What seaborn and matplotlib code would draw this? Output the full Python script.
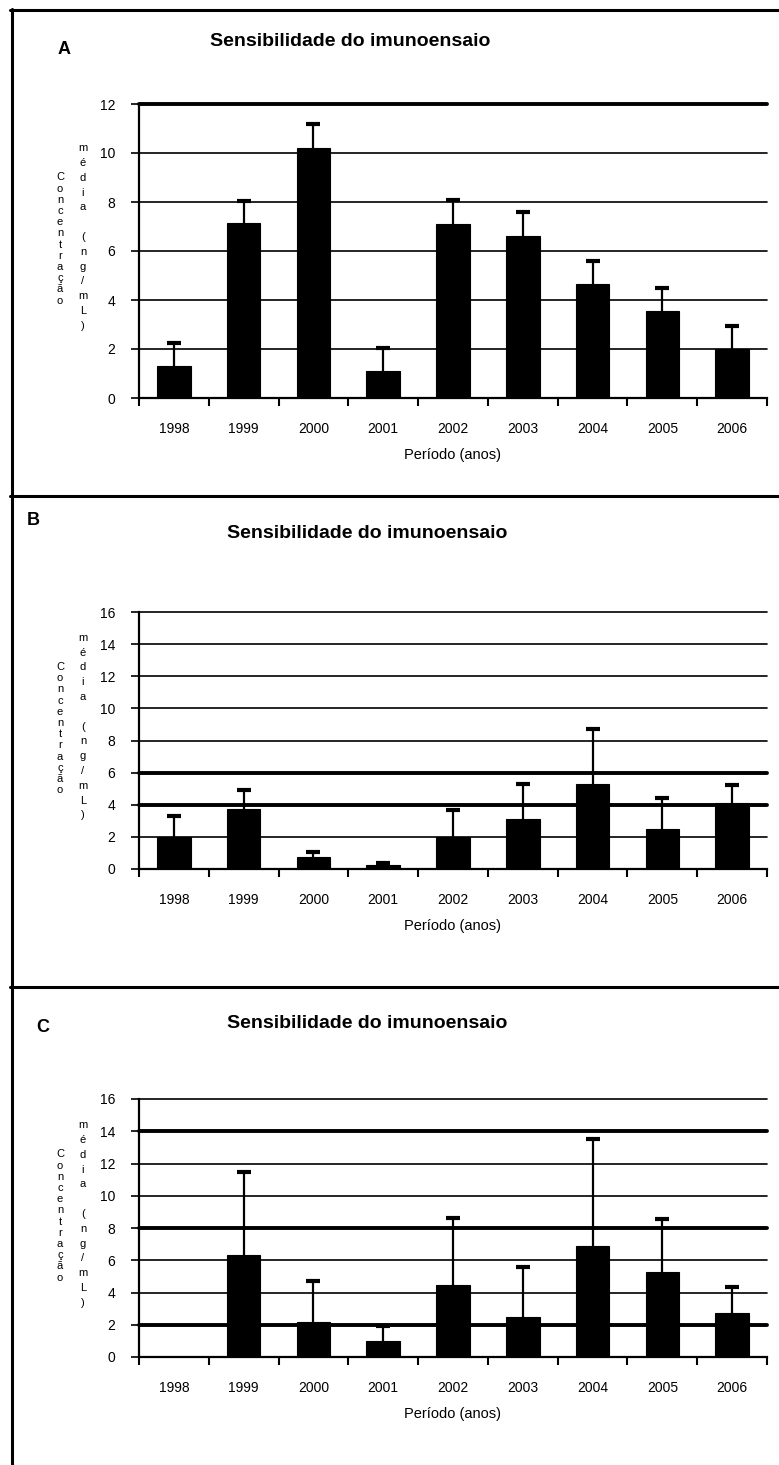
import numpy as np
import matplotlib
matplotlib.use('Agg')
import matplotlib.pyplot as plt
import seaborn as sns
from matplotlib.lines import Line2D

# Dados (média e desvio superior)
years = ['1998', '1999', '2000', '2001', '2002', '2003', '2004', '2005', '2006']

a_mean = [1.3, 7.15, 10.2, 1.1, 7.1, 6.6, 4.65, 3.55, 2.0]
a_err = [0.95, 0.9, 1.0, 0.95, 1.0, 1.0, 0.95, 0.95, 0.95]

b_mean = [2.0, 3.75, 0.75, 0.25, 2.0, 3.1, 5.3, 2.5, 4.1]
b_err = [1.3, 1.15, 0.3, 0.1, 1.7, 2.2, 3.4, 1.95, 1.1]

c_mean = [0.0, 6.3, 2.2, 1.0, 4.45, 2.5, 6.9, 5.3, 2.7]
c_err = [0.0, 5.2, 2.5, 0.95, 4.15, 3.1, 6.65, 3.25, 1.65]

title = 'Sensibilidade do imunoensaio'
xlabel = 'Período (anos)'
ylabel_1 = 'Concentração'
ylabel_2 = 'média (ng/mL)'

sns.set_style('white')
plt.rcParams['font.family'] = ['Liberation Sans', 'DejaVu Sans']
plt.rcParams['text.color'] = 'black'
plt.rcParams['axes.labelcolor'] = 'black'
plt.rcParams['xtick.color'] = 'black'
plt.rcParams['ytick.color'] = 'black'

W, H = 779, 1465
fig = plt.figure(figsize=(W / 100, H / 100), dpi=100)


def fx(px):
    return px / W


def fy(py):
    return 1 - py / H


# letra, médias, erros, ymax, topo/base do eixo (px), linhas grossas, título (px), letra (px)
panels = [
    ('A', a_mean, a_err, 12, 104, 398, [12], (350, 42), (64, 50)),
    ('B', b_mean, b_err, 16, 612, 869, [4, 6], (367, 534), (33, 521)),
    ('C', c_mean, c_err, 16, 1099, 1357, [2, 8, 14], (367, 1024), (43, 1027)),
]

for letter, mean, err, ymax, top, bottom, thick, tpos, lpos in panels:
    ax = fig.add_axes([fx(139), fy(bottom), fx(767) - fx(139), (bottom - top) / H])
    sns.barplot(x=years, y=mean, color='black', saturation=1, width=0.48,
                errorbar=None, edgecolor='black', linewidth=0.8, ax=ax)
    idx = [i for i, e in enumerate(err) if e > 0]
    eb = ax.errorbar(idx, [mean[i] for i in idx],
                     yerr=[[0] * len(idx), [err[i] for i in idx]],
                     fmt='none', ecolor='black', elinewidth=1.6, capsize=5, capthick=3)
    # só a barra de erro superior
    eb[1][0].set_visible(False)

    ax.set_xlim(-0.5, 8.5)
    ax.set_ylim(0, ymax)
    yt = list(range(0, ymax + 1, 2))
    ax.set_yticks(yt)
    ax.set_xticks(np.arange(-0.5, 9, 1), minor=True)

    ax.yaxis.grid(True, color='black', linewidth=1.2)
    ax.set_axisbelow(True)
    for t, gl in zip(yt, ax.get_ygridlines()):
        gl.set_clip_on(False)
        if t in thick:
            gl.set_linewidth(2.8)

    for s in ['top', 'right']:
        ax.spines[s].set_visible(False)
    for s in ['left', 'bottom']:
        ax.spines[s].set_color('black')
        ax.spines[s].set_linewidth(1.6)

    ax.tick_params(axis='y', left=True, direction='out', length=6, width=1.2,
                   color='black', pad=11, labelsize=10, labelcolor='black')
    ax.tick_params(axis='x', which='major', bottom=True, length=0, pad=17,
                   labelsize=10, labelcolor='black')
    ax.tick_params(axis='x', which='minor', bottom=True, direction='out',
                   length=6, width=1.5, color='black')

    ax.set_xlabel(xlabel, fontsize=10.5, labelpad=9, color='black')
    ax.set_ylabel('')

    fig.text(fx(tpos[0]), fy(tpos[1]), title, ha='center', va='center',
             fontsize=14, fontweight='bold', color='black')
    fig.text(fx(lpos[0]), fy(lpos[1]), letter, ha='center', va='center',
             fontsize=13, fontweight='bold', color='black')

    mid = (top + bottom) / 2
    fig.text(fx(60), fy(mid - 12), '\n'.join(ylabel_1), ha='center', va='center',
             fontsize=8, linespacing=1.15, color='black')
    fig.text(fx(83), fy(mid - 14), '\n'.join(ylabel_2), ha='center', va='center',
             fontsize=8, linespacing=1.6, color='black')

# moldura dos painéis
frame_kw = dict(color='black', linewidth=2.2, transform=fig.transFigure)
fig.add_artist(Line2D([fx(11.5), fx(11.5)], [fy(9), fy(H)], **frame_kw))
for yy in [10, 495.5, 986.5]:
    fig.add_artist(Line2D([fx(10), fx(W)], [fy(yy), fy(yy)], **frame_kw))

fig.savefig('out.png', dpi=100)
